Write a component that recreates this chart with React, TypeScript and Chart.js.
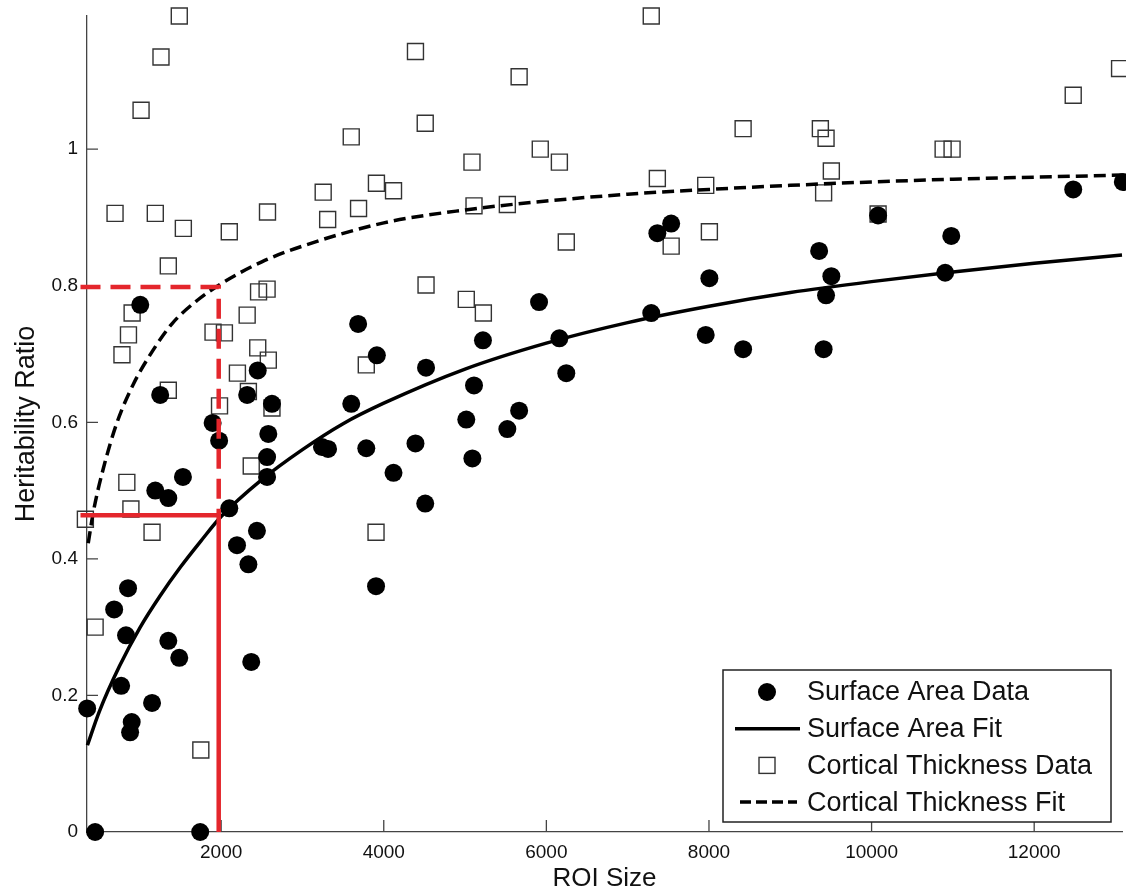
import React, { useEffect, useRef } from "react";
import { Chart, registerables } from "chart.js";

Chart.register(...registerables);

// ---- Data ----
const SA_X = [450, 1742, 855, 684, 830, 1350, 1485, 770, 352, 1150, 900, 880, 2335, 2370, 3905, 1005, 1250, 1895, 1975, 1530, 1190, 1350, 2100, 2450, 2320, 2625, 2580, 2565, 2565, 2195, 2440, 3685, 3915, 3600, 3240, 3315, 3785, 4120, 7365, 7535, 8005, 5910, 7290, 6160, 5220, 7960, 8420, 4520, 5110, 6245, 5015, 5665, 5520, 4390, 5090, 4510, 10080, 12480, 13090, 9355, 10980, 9505, 9440, 10905, 9410];
const SA_Y = [0, 0, 0.357, 0.326, 0.288, 0.28, 0.255, 0.214, 0.181, 0.189, 0.161, 0.146, 0.392, 0.249, 0.36, 0.772, 0.64, 0.599, 0.573, 0.52, 0.5, 0.489, 0.474, 0.676, 0.64, 0.627, 0.583, 0.549, 0.52, 0.42, 0.441, 0.744, 0.698, 0.627, 0.564, 0.561, 0.562, 0.526, 0.877, 0.891, 0.811, 0.776, 0.76, 0.723, 0.72, 0.728, 0.707, 0.68, 0.654, 0.672, 0.604, 0.617, 0.59, 0.569, 0.547, 0.481, 0.903, 0.941, 0.952, 0.851, 0.873, 0.814, 0.786, 0.819, 0.707];

const CT_X = [450, 1750, 905, 860, 780, 1350, 1900, 2040, 2320, 2460, 2565, 2200, 2450, 2580, 2335, 2625, 1980, 2370, 840, 890, 330, 1150, 3785, 3905, 1485, 1260, 1015, 3600, 695, 1190, 1535, 2100, 2570, 3255, 3310, 3690, 3910, 4120, 1350, 7290, 4390, 5665, 4510, 5085, 5925, 6160, 5110, 5520, 7365, 7960, 8420, 6245, 7535, 8005, 4520, 5015, 5225, 13050, 12480, 9370, 9440, 10880, 10990, 9505, 9410, 10080];
const CT_Y = [0.3, 0.12, 0.76, 0.728, 0.699, 0.647, 0.732, 0.731, 0.757, 0.791, 0.795, 0.672, 0.709, 0.691, 0.645, 0.621, 0.624, 0.536, 0.512, 0.473, 0.458, 0.439, 0.684, 0.439, 1.195, 1.135, 1.057, 1.018, 0.906, 0.906, 0.884, 0.879, 0.908, 0.937, 0.897, 0.913, 0.95, 0.939, 0.829, 1.195, 1.143, 1.106, 1.038, 0.981, 1.0, 0.981, 0.917, 0.919, 0.957, 0.947, 1.03, 0.864, 0.858, 0.879, 0.801, 0.78, 0.76, 1.118, 1.079, 1.03, 1.016, 1.0, 1.0, 0.968, 0.936, 0.905];

const SA_FIT_X = [355, 500, 750, 1000, 1250, 1500, 1750, 2000, 2500, 3000, 3500, 4000, 5000, 6000, 7000, 8000, 9000, 10000, 11000, 12000, 13080];
const SA_FIT_Y = [0.127, 0.176, 0.243, 0.299, 0.346, 0.388, 0.426, 0.462, 0.516, 0.56, 0.598, 0.628, 0.678, 0.716, 0.746, 0.77, 0.79, 0.806, 0.82, 0.833, 0.845];

const CT_FIT_X = [365, 430, 550, 720, 917, 1165, 1400, 1700, 2000, 2500, 3000, 4000, 5000, 6000, 7000, 8000, 9000, 10000, 11000, 12000, 13080];
const CT_FIT_Y = [0.423, 0.47, 0.532, 0.6, 0.655, 0.706, 0.745, 0.778, 0.803, 0.835, 0.858, 0.892, 0.911, 0.924, 0.934, 0.941, 0.947, 0.952, 0.956, 0.959, 0.962];

const REF_DASH_X = [270, 1970, 1970];
const REF_DASH_Y = [0.798, 0.798, 0.464];
const REF_SOLID_X = [270, 1970, 1970];
const REF_SOLID_Y = [0.464, 0.464, 0];

const X_TICKS = [2000, 4000, 6000, 8000, 10000, 12000];
const X_TICK_LABELS = ["2000", "4000", "6000", "8000", "10000", "12000"];
const Y_TICKS = [0, 0.2, 0.4, 0.6, 0.8, 1];
const Y_TICK_LABELS = ["0", "0.2", "0.4", "0.6", "0.8", "1"];

const X_RANGE = [350, 13080];
const Y_RANGE = [0, 1.195];

const LABELS = ["Surface Area Data", "Surface Area Fit", "Cortical Thickness Data", "Cortical Thickness Fit"];

const FONT = "'Liberation Sans', Arial, Helvetica, sans-serif";
const RED = "#e4262c";

const zip = (xs: number[], ys: number[]) => xs.map((x, i) => ({ x, y: ys[i] }));

const innerTicks = {
  id: "innerTicks",
  beforeDatasetsDraw(chart: any) {
    const { ctx, chartArea, scales } = chart;
    ctx.save();
    ctx.strokeStyle = "#444";
    ctx.lineWidth = 1.3;
    ctx.beginPath();
    scales.x.ticks.forEach((t: any) => {
      const px = scales.x.getPixelForValue(t.value);
      ctx.moveTo(px, chartArea.bottom);
      ctx.lineTo(px, chartArea.bottom - 12);
    });
    scales.y.ticks.forEach((t: any) => {
      const py = scales.y.getPixelForValue(t.value);
      ctx.moveTo(chartArea.left, py);
      ctx.lineTo(chartArea.left + 11, py);
    });
    ctx.stroke();
    ctx.restore();
  },
};

const boxLegend = {
  id: "boxLegend",
  afterDraw(chart: any) {
    const { ctx, chartArea } = chart;
    const w = 388;
    const h = 152;
    const right = chartArea.right - 11;
    const bottom = chartArea.bottom - 10;
    const left = right - w;
    const top = bottom - h;
    ctx.save();
    ctx.fillStyle = "#fff";
    ctx.fillRect(left, top, w, h);
    ctx.strokeStyle = "#222";
    ctx.lineWidth = 1.5;
    ctx.strokeRect(left, top, w, h);
    const order = [1, 2, 3, 4];
    order.forEach((dsIndex, i) => {
      const ds = chart.data.datasets[dsIndex];
      const cy = top + 22 + i * 36.7;
      const cx = left + 44;
      if (i === 0) {
        ctx.fillStyle = "#000";
        ctx.beginPath();
        ctx.arc(cx, cy, 9, 0, Math.PI * 2);
        ctx.fill();
      } else if (i === 2) {
        ctx.strokeStyle = "#333";
        ctx.lineWidth = 1.4;
        ctx.strokeRect(cx - 8, cy - 8, 16, 16);
      } else {
        ctx.strokeStyle = "#000";
        ctx.lineWidth = 3.5;
        ctx.setLineDash(i === 3 ? [11, 5] : []);
        ctx.beginPath();
        ctx.moveTo(i === 3 ? left + 17 : left + 12, cy);
        ctx.lineTo(i === 3 ? left + 74 : left + 77, cy);
        ctx.stroke();
        ctx.setLineDash([]);
      }
      ctx.fillStyle = "#111";
      ctx.font = `27px ${FONT}`;
      ctx.textBaseline = "middle";
      ctx.textAlign = "left";
      ctx.fillText(ds.label, left + 84, cy + 1);
    });
    ctx.restore();
  },
};

export default function App() {
  const canvasRef = useRef<HTMLCanvasElement | null>(null);

  useEffect(() => {
    if (!canvasRef.current) return;
    Chart.defaults.font.family = FONT;
    const chart = new Chart(canvasRef.current, {
      type: "scatter",
      data: {
        datasets: [
          {
            label: "ref-dashed",
            type: "line",
            data: zip(REF_DASH_X, REF_DASH_Y),
            borderColor: RED,
            borderWidth: 4.5,
            borderDash: [20, 10],
            pointRadius: 0,
            showLine: true,
            fill: false,
            clip: false,
            order: 0,
          } as any,
          {
            label: LABELS[0],
            data: zip(SA_X, SA_Y),
            pointStyle: "circle",
            pointRadius: 9,
            backgroundColor: "#000",
            borderWidth: 0,
            clip: false,
            order: 3,
          } as any,
          {
            label: LABELS[1],
            type: "line",
            data: zip(SA_FIT_X, SA_FIT_Y),
            borderColor: "#000",
            borderWidth: 3.5,
            pointRadius: 0,
            showLine: true,
            fill: false,
            cubicInterpolationMode: "monotone",
            clip: false,
            order: 2,
          } as any,
          {
            label: LABELS[2],
            data: zip(CT_X, CT_Y),
            pointStyle: "rect",
            pointRadius: 11.3,
            backgroundColor: "rgba(0,0,0,0)",
            borderColor: "#333",
            borderWidth: 1.4,
            clip: false,
            order: 4,
          } as any,
          {
            label: LABELS[3],
            type: "line",
            data: zip(CT_FIT_X, CT_FIT_Y),
            borderColor: "#000",
            borderWidth: 3.5,
            borderDash: [12, 6],
            pointRadius: 0,
            showLine: true,
            fill: false,
            cubicInterpolationMode: "monotone",
            clip: false,
            order: 2,
          } as any,
          {
            label: "ref-solid",
            type: "line",
            data: zip(REF_SOLID_X, REF_SOLID_Y),
            borderColor: RED,
            borderWidth: 4.5,
            pointRadius: 0,
            showLine: true,
            fill: false,
            clip: false,
            order: 0,
          } as any,
        ],
      },
      options: {
        animation: false,
        responsive: false,
        maintainAspectRatio: false,
        layout: { autoPadding: false, padding: { left: 0, top: 16, right: 4, bottom: 0 } },
        plugins: {
          legend: { display: false },
          tooltip: { enabled: false },
        },
        scales: {
          x: {
            type: "linear",
            min: X_RANGE[0],
            max: X_RANGE[1],
            afterBuildTicks: (scale: any) => {
              scale.ticks = X_TICKS.map((v) => ({ value: v }));
            },
            afterFit: (scale: any) => {
              scale.height = 60;
              scale.paddingLeft = 0;
              scale.paddingRight = 0;
            },
            grid: { display: false, drawTicks: false },
            border: { display: true, color: "#444", width: 1.3 },
            ticks: {
              padding: 9,
              color: "#111",
              font: { size: 19, family: FONT },
              maxRotation: 0,
              autoSkip: false,
              callback: (_v: any, i: number) => X_TICK_LABELS[i],
            },
            title: {
              display: true,
              text: "ROI Size",
              color: "#111",
              font: { size: 26, family: FONT, lineHeight: 1 },
              padding: { top: 0, bottom: 0 },
            },
          },
          y: {
            type: "linear",
            min: Y_RANGE[0],
            max: Y_RANGE[1],
            afterBuildTicks: (scale: any) => {
              scale.ticks = Y_TICKS.map((v) => ({ value: v }));
            },
            afterFit: (scale: any) => {
              scale.width = 87;
              scale.paddingTop = 0;
              scale.paddingBottom = 0;
            },
            grid: { display: false, drawTicks: false },
            border: { display: true, color: "#444", width: 1.3 },
            ticks: {
              padding: 9,
              color: "#111",
              font: { size: 19, family: FONT },
              autoSkip: false,
              callback: (_v: any, i: number) => Y_TICK_LABELS[i],
            },
            title: {
              display: true,
              text: "Heritability Ratio",
              color: "#111",
              font: { size: 27, family: FONT, lineHeight: 1 },
              padding: { top: 13, bottom: 0 },
            },
          },
        },
      },
      plugins: [innerTicks, boxLegend],
    } as any);
    return () => chart.destroy();
  }, []);

  return (
    <div style={{ position: "fixed", left: 0, top: 0, width: 1126, height: 892, background: "#fff" }}>
      <canvas ref={canvasRef} width={1126} height={892} style={{ display: "block", width: 1126, height: 892 }} />
    </div>
  );
}
